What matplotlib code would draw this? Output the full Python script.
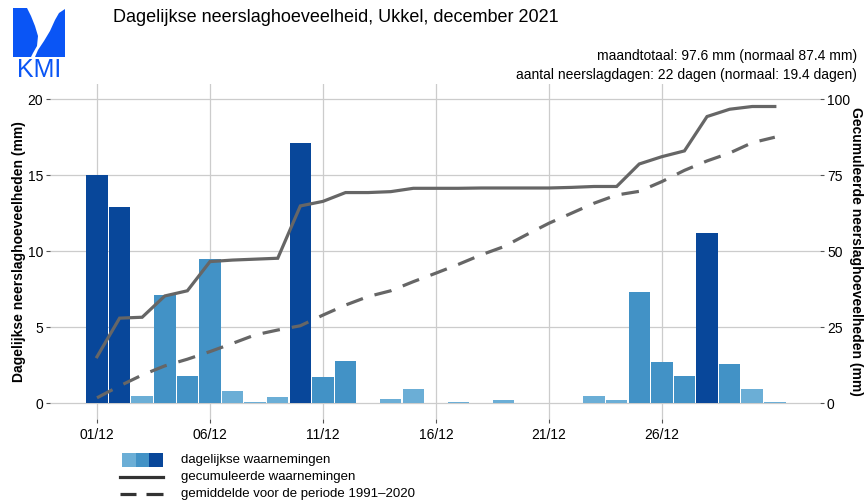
import numpy as np
import matplotlib
matplotlib.use('Agg')
import matplotlib.pyplot as plt
from matplotlib.patches import Rectangle, Polygon
from matplotlib.lines import Line2D

plt.rcParams['font.family'] = ['Liberation Sans', 'DejaVu Sans']

# data
days = list(range(1, 32))
daily = [15.0, 12.9, 0.5, 7.1, 1.8, 9.5, 0.8, 0.1, 0.4, 17.1,
         1.7, 2.8, 0.05, 0.3, 0.95, 0.05, 0.1, 0.05, 0.2, 0.05,
         0.02, 0.05, 0.5, 0.2, 7.3, 2.7, 1.8, 11.2, 2.6, 0.95, 0.1]
cumulative = [15.3, 28.0, 28.3, 35.3, 37.0, 46.6, 47.1, 47.4, 47.7, 64.9,
              66.4, 69.3, 69.3, 69.6, 70.7, 70.7, 70.7, 70.8, 70.8, 70.8,
              70.8, 71.0, 71.3, 71.3, 78.7, 81.1, 83.0, 94.3, 96.7, 97.6, 97.6]
normal = [1.8, 5.7, 9.3, 12.3, 14.5, 17.0, 19.7, 22.5, 24.1, 25.5,
          29.0, 32.3, 35.1, 37.0, 40.0, 42.8, 45.7, 48.8, 51.5, 55.4,
          59.2, 62.5, 65.8, 68.5, 69.7, 72.9, 76.6, 79.7, 82.3, 85.7, 87.5]
tick_days = [1, 6, 11, 16, 21, 26]
tick_labels = ['01/12', '06/12', '11/12', '16/12', '21/12', '26/12']
class_limits = [1.0, 10.0]
class_colors = ['#6baed6', '#4292c6', '#08479a']

title = 'Dagelijkse neerslaghoeveelheid, Ukkel, december 2021'
info1 = 'maandtotaal: 97.6 mm (normaal 87.4 mm)'
info2 = 'aantal neerslagdagen: 22 dagen (normaal: 19.4 dagen)'
legend_labels = ['dagelijkse waarnemingen', 'gecumuleerde waarnemingen',
                 'gemiddelde voor de periode 1991\u20132020']

W, H = 868, 504
fig = plt.figure(figsize=(W / 100, H / 100), dpi=100)
ax = fig.add_axes([50 / W, 1 - 418.5 / H, 770 / W, 334.5 / H])

colors = [class_colors[int(np.searchsorted(class_limits, v, side='right'))] for v in daily]
ax.bar(days, daily, width=0.95, color=colors, linewidth=0, zorder=2)

ax.set_xlim(-1.08, 33.0)
ax.set_ylim(-1, 21)
ax.set_yticks([0, 5, 10, 15, 20])
ax.set_xticks(tick_days)
ax.set_xticklabels(tick_labels)
ax.grid(True, color='#cccccc', linewidth=0.9, zorder=0)
ax.set_axisbelow(True)
for s in ax.spines.values():
    s.set_visible(False)
ax.tick_params(axis='both', colors='#555555', labelcolor='black', labelsize=10, length=3, width=0.8)
ax.tick_params(axis='y', pad=2)
ax.tick_params(axis='x', pad=4)
ax.set_ylabel('Dagelijkse neerslaghoeveelheden (mm)', fontsize=10, fontweight='bold', labelpad=1)

ax2 = ax.twinx()
ax2.set_ylim(-5, 105)
ax2.set_yticks([0, 25, 50, 75, 100])
for s in ax2.spines.values():
    s.set_visible(False)
ax2.tick_params(axis='y', colors='#555555', labelcolor='black', labelsize=10, length=3, width=0.8, pad=2)
ax2.plot(days, cumulative, color='#666666', linewidth=2.3, solid_joinstyle='miter', zorder=3)
ax2.plot(days, normal, color='#666666', linewidth=2.3, dashes=(5.5, 3.8), zorder=3)
ax2.set_ylabel('Gecumuleerde neerslaghoeveelheden (mm)', fontsize=10, fontweight='bold',
               rotation=-90, labelpad=9)

# titles
fig.text(113 / W, 1 - 18 / H, title, fontsize=13, va='center', ha='left')
fig.text(857 / W, 1 - 56 / H, info1, fontsize=10, va='center', ha='right')
fig.text(857 / W, 1 - 75 / H, info2, fontsize=10, va='center', ha='right')

# legend drawn by hand
for i, c in enumerate(class_colors):
    fig.add_artist(Rectangle(((122 + i * 13.7) / W, 1 - 467 / H), 13.7 / W, 14 / H,
                             transform=fig.transFigure, color=c, lw=0))
fig.add_artist(Line2D([120 / W, 163 / W], [1 - 477 / H] * 2, color='#333333', lw=2.3,
                      transform=fig.transFigure))
for x0, x1 in ((120, 136), (146, 163)):
    fig.add_artist(Line2D([x0 / W, x1 / W], [1 - 494 / H] * 2, color='#333333', lw=2.3,
                          solid_capstyle='butt', transform=fig.transFigure))
for i, lab in enumerate(legend_labels):
    fig.text(181 / W, 1 - (460 + 17 * i) / H, lab, fontsize=9.5, va='center', ha='left')

# KMI logo
logo_blue = '#0a55f5'
left_shape = [(13, 8), (27, 8), (31, 16), (35, 26), (38, 36), (37, 46), (33, 53), (31, 57), (13, 57)]
right_shape = [(65, 9), (65, 57), (35, 57), (38, 50), (44, 41), (50, 31), (55, 20), (59, 13)]
for shape in (left_shape, right_shape):
    pts = [(x / W, 1 - y / H) for x, y in shape]
    fig.add_artist(Polygon(pts, closed=True, transform=fig.transFigure, color=logo_blue, lw=0))
fig.text(39 / W, 1 - 70 / H, 'KMI', fontsize=18, color=logo_blue, ha='center', va='center')

fig.savefig('out.png', dpi=100)
